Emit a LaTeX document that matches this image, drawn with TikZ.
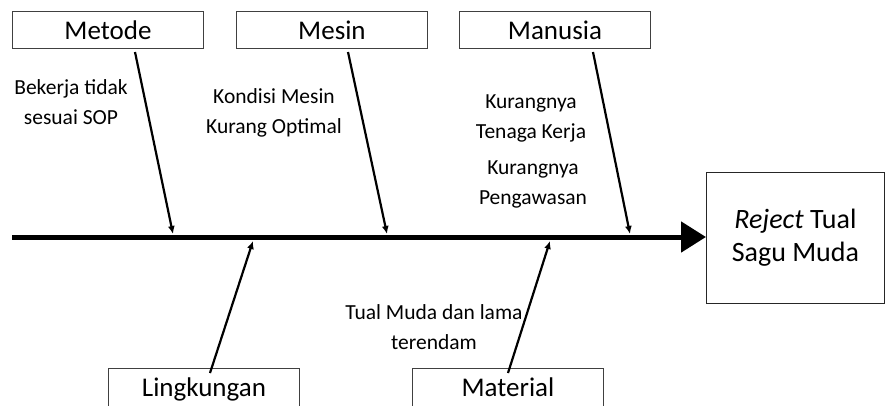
\documentclass[tikz,border=0pt]{standalone}
\usepackage{fontspec}
\setmainfont{Carlito}
\usetikzlibrary{arrows.meta}
\begin{document}
\begin{tikzpicture}[x=1pt,y=-1pt,
  catbox/.style={draw=black!75, line width=0.9pt, minimum width=191pt, minimum height=37pt,
    inner sep=0pt, anchor=north west, font=\fontsize{27}{30}\selectfont},
  lowbox/.style={catbox, minimum height=42pt, text height=19pt, text depth=5pt},
  cause/.style={align=center, inner sep=0pt, font=\fontsize{21.5}{30}\selectfont},
  bone/.style={line width=2.2pt, -{Latex[length=8pt,width=7pt]}},
  spine/.style={line width=5pt, -{Triangle[length=25pt,width=30pt]}},
  resbox/.style={draw=black!85, line width=0.9pt, minimum width=178pt, minimum height=131pt,
    inner sep=0pt, anchor=west, align=center, font=\fontsize{28}{33}\selectfont}]
\clip (0,0) rectangle (886,405);

% category boxes
\node[catbox] (metode)  at (12,11)  {Metode};
\node[catbox] (mesin)   at (236,11) {Mesin};
\node[catbox] (manusia) at (459,11) {Manusia};
\node[lowbox] (lingk)   at (108,368) {Lingkungan};
\node[lowbox] (material) at (412,368) {Material};

% effect
\node[resbox] (res) at (706,237.5) {\textit{Reject} Tual\\Sagu Muda};

% spine
\coordinate (s0) at (12,237);
\draw[spine] (s0) -- (res.west |- s0);

% bone end points
\coordinate (a1) at (135,52);  \coordinate (b1) at (173,234);
\coordinate (a2) at (348,52);  \coordinate (b2) at (387,234);
\coordinate (a3) at (593,52);  \coordinate (b3) at (630,234);
\coordinate (a4) at (210,373); \coordinate (b4) at (253,241);
\coordinate (a5) at (508,373); \coordinate (b5) at (550,241);

\draw[bone] (a1) -- (b1);
\draw[bone] (a2) -- (b2);
\draw[bone] (a3) -- (b3);
\draw[bone] (a4) -- (b4);
\draw[bone] (a5) -- (b5);

% causes
\node[cause] (c1) at (71,102)    {Bekerja tidak\\sesuai SOP};
\node[cause] (c2) at (274,112.5) {Kondisi Mesin\\Kurang Optimal};
\node[cause] (c3) at (531,118)   {Kurangnya\\Tenaga Kerja};
\node[cause] (c4) at (533,184.5) {Kurangnya\\Pengawasan};
\node[cause] (c5) at (434,327)   {Tual Muda dan lama\\terendam};
\end{tikzpicture}
\end{document}
